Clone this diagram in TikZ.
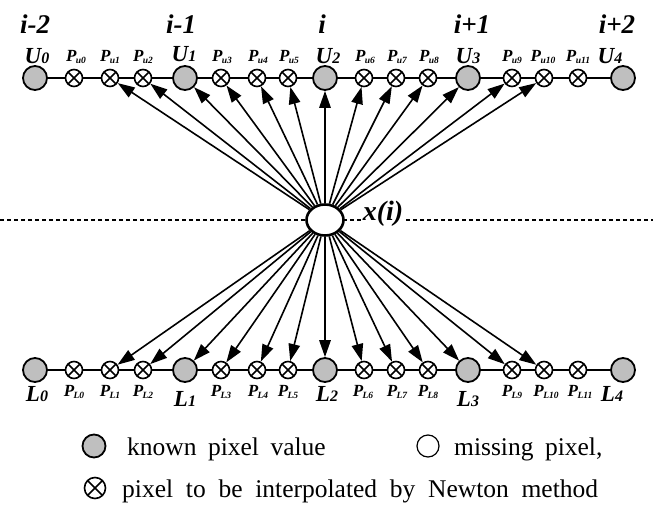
\documentclass[tikz,border=0pt]{standalone}
\usepackage{fontspec}
\setmainfont{Liberation Serif}
\usetikzlibrary{arrows.meta,shapes.geometric}
\newcommand\ULab[2]{{\fontsize{23}{23}\selectfont\bfseries\itshape #1\fontsize{16}{16}\selectfont #2}}
\newcommand\PLab[1]{{\fontsize{17}{17}\selectfont\bfseries\itshape P\kern-0.5pt\raisebox{-1.5pt}{\fontsize{9.5}{9.5}\selectfont #1}}}
\begin{document}
\begin{tikzpicture}[x=1pt,y=-1pt,
  known/.style={circle,draw,line width=1.8pt,fill=gray!50,minimum size=24pt,inner sep=0pt},
  interp/.style={circle,draw,line width=1.6pt,fill=white,minimum size=17pt,inner sep=0pt,
    path picture={\draw[line width=1.6pt] (path picture bounding box.center) +(45:8.5pt) -- +(225:8.5pt)
      (path picture bounding box.center) +(135:8.5pt) -- +(-45:8.5pt);}},
  conn/.style={line width=1.6pt,-{Triangle[length=17pt,width=11.5pt]}},
  rowline/.style={line width=1.7pt},
  idx/.style={font=\fontsize{27}{27}\selectfont\bfseries\itshape,inner sep=0pt},
  lab/.style={inner sep=0pt},
  legtext/.style={anchor=base west,inner sep=0pt,font=\fontsize{25.5}{25.5}\selectfont}]
\useasboundingbox (0,0) rectangle (653,511);
% dashed horizontal line
\coordinate (dl) at (0,220);
\coordinate (dr) at (653,220);
\draw[line width=1.2pt,dash pattern=on 4pt off 3pt] (dl) -- (dr);
% rows
\foreach \x [count=\k from 0] in {35,74,110,143,185,221,257,288,325,364,396,428,468,512,544,578,623}{
  \pgfmathtruncatemacro\m{mod(\k,4)}
  \ifnum\m=0
    \node[known] (t\k) at (\x,78) {};
    \node[known] (b\k) at (\x,370) {};
  \else
    \node[interp] (t\k) at (\x,78) {};
    \node[interp] (b\k) at (\x,370) {};
  \fi
}
\foreach \k [evaluate=\k as \j using int(\k+1)] in {0,...,15}{
  \draw[rowline] (t\k) -- (t\j);
  \draw[rowline] (b\k) -- (b\j);
}
% centre
\node[draw,ellipse,line width=2.6pt,fill=white,minimum width=37pt,minimum height=31pt,inner sep=0pt] (c) at (325,220) {};
\node[fill=white,inner sep=1pt,font=\fontsize{28}{28}\selectfont\bfseries\itshape] (xl) at (383,214) {x(i)};
\foreach \k in {2,...,14}{
  \draw[conn] (c) -- (t\k);
  \draw[conn] (c) -- (b\k);
}
% index labels
\node[idx] (i0) at (35,24) {i-2};
\node[idx] (i1) at (181,24) {i-1};
\node[idx] (i2) at (322,24) {i};
\node[idx] (i3) at (472,24) {i+1};
\node[idx] (i4) at (617,24) {i+2};
% upper labels
\node[lab] (lu0) at (37,56) {\ULab{U}{0}};
\node[lab] (lu1) at (184,54) {\ULab{U}{1}};
\node[lab] (lu2) at (328,56) {\ULab{U}{2}};
\node[lab] (lu3) at (468,56) {\ULab{U}{3}};
\node[lab] (lu4) at (610,56) {\ULab{U}{4}};
\node[lab] (pu0) at (76,57) {\PLab{u0}};
\node[lab] (pu1) at (110,57) {\PLab{u1}};
\node[lab] (pu2) at (143,57) {\PLab{u2}};
\node[lab] (pu3) at (222,57) {\PLab{u3}};
\node[lab] (pu4) at (258,57) {\PLab{u4}};
\node[lab] (pu5) at (289,57) {\PLab{u5}};
\node[lab] (pu6) at (365,57) {\PLab{u6}};
\node[lab] (pu7) at (397,57) {\PLab{u7}};
\node[lab] (pu8) at (429,57) {\PLab{u8}};
\node[lab] (pu9) at (512,57) {\PLab{u9}};
\node[lab] (pu10) at (543,57) {\PLab{u10}};
\node[lab] (pu11) at (578,57) {\PLab{u11}};
% lower labels
\node[lab] (ll0) at (37,394) {\ULab{L}{0}};
\node[lab] (ll1) at (185,399) {\ULab{L}{1}};
\node[lab] (ll2) at (327,394) {\ULab{L}{2}};
\node[lab] (ll3) at (468,399) {\ULab{L}{3}};
\node[lab] (ll4) at (612,394) {\ULab{L}{4}};
\node[lab] (pl0) at (74,392) {\PLab{L0}};
\node[lab] (pl1) at (110,392) {\PLab{L1}};
\node[lab] (pl2) at (143,392) {\PLab{L2}};
\node[lab] (pl3) at (221,392) {\PLab{L3}};
\node[lab] (pl4) at (258,392) {\PLab{L4}};
\node[lab] (pl5) at (288,392) {\PLab{L5}};
\node[lab] (pl6) at (363,392) {\PLab{L6}};
\node[lab] (pl7) at (397,392) {\PLab{L7}};
\node[lab] (pl8) at (428,392) {\PLab{L8}};
\node[lab] (pl9) at (512,392) {\PLab{L9}};
\node[lab] (pl10) at (546,392) {\PLab{L10}};
\node[lab] (pl11) at (580,392) {\PLab{L11}};
% legend
\node[known,minimum size=23pt] (lk) at (94,446) {};
\node[legtext] (tk) at (127,455) {known\hspace{0.45em}pixel\hspace{0.45em}value};
\node[circle,draw,line width=1.2pt,minimum size=22pt,inner sep=0pt] (lm) at (428,446) {};
\node[legtext] (tm) at (454,455) {missing\hspace{0.45em}pixel,};
\node[interp,minimum size=21pt,path picture={\draw[line width=1.5pt] (path picture bounding box.center) +(45:10.5pt) -- +(225:10.5pt)
      (path picture bounding box.center) +(135:10.5pt) -- +(-45:10.5pt);}] (li) at (95,488) {};
\node[legtext] (ti) at (122,497) {pixel\hspace{0.5em}to\hspace{0.5em}be\hspace{0.5em}interpolated\hspace{0.5em}by\hspace{0.5em}Newton\hspace{0.5em}method};
\end{tikzpicture}
\end{document}
